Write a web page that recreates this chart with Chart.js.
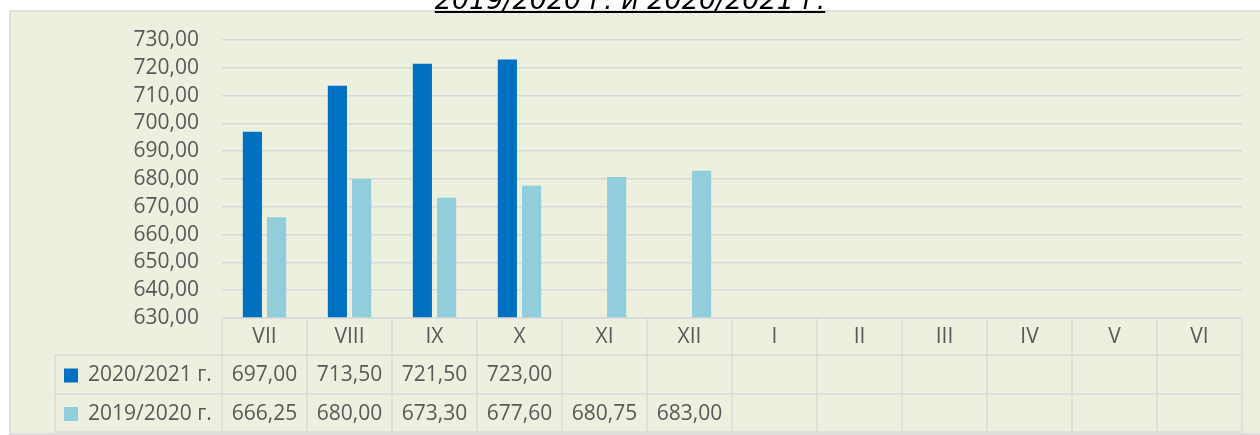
<!DOCTYPE html>
<html>
<head>
<meta charset="utf-8">
<script src="https://cdn.jsdelivr.net/npm/chart.js@4.4.0/dist/chart.umd.min.js"></script>
<style>
  html, body { margin: 0; padding: 0; background: #ffffff; overflow: hidden; }
  #wrap { position: relative; width: 1260px; height: 435px; }
  #title {
    position: absolute; left: 0; width: 1260px; top: -14px;
    text-align: center; font-family: "DejaVu Sans"; font-style: italic;
    font-size: 27px; line-height: 27px; color: #000; text-decoration: underline;
    z-index: 2;
  }
  canvas { position: absolute; left: 0; top: 0; }
</style>
</head>
<body>
<div id="wrap">
  <div id="title">2019/2020 г. и 2020/2021 г.</div>
  <canvas id="chart" width="1260" height="435"></canvas>
</div>
<script>
const months = ["VII", "VIII", "IX", "X", "XI", "XII", "I", "II", "III", "IV", "V", "VI"];
const season2021 = [697.0, 713.5, 721.5, 723.0, null, null, null, null, null, null, null, null];
const season2020 = [666.25, 680.0, 673.3, 677.6, 680.75, 683.0, null, null, null, null, null, null];
const seriesNames = ["2020/2021 г.", "2019/2020 г."];
const seriesColors = ["#0070C0", "#92CDDC"];

const fmt = (v) => v.toFixed(2).replace(".", ",");
const TEXT = "#595959";
const LINE = "#D9D9D9";

// green box behind everything
const boxPlugin = {
  id: "box",
  beforeDraw(chart) {
    const ctx = chart.ctx;
    ctx.save();
    ctx.fillStyle = "#EBF1DE";
    ctx.fillRect(10, 11, 1260, 430);
    ctx.strokeStyle = LINE;
    ctx.lineWidth = 1.5;
    ctx.strokeRect(10, 11, 1270, 423);
    ctx.restore();
  }
};

// data table under the plot, aligned to the x scale
const tablePlugin = {
  id: "dataTable",
  afterDraw(chart) {
    const ctx = chart.ctx;
    const x = chart.scales.x;
    const area = chart.chartArea;
    const colW = (area.right - area.left) / months.length;
    const rows = [area.bottom, 355, 394, 432];
    const legendLeft = 55;

    ctx.save();
    ctx.strokeStyle = LINE;
    ctx.lineWidth = 1.5;
    ctx.beginPath();
    ctx.moveTo(area.left, rows[0]);
    ctx.lineTo(area.right, rows[0]);
    for (let r = 1; r < rows.length; r++) {
      ctx.moveTo(legendLeft, rows[r]);
      ctx.lineTo(area.right, rows[r]);
    }
    for (let i = 0; i <= months.length; i++) {
      const cx = area.left + i * colW;
      ctx.moveTo(cx, rows[0]);
      ctx.lineTo(cx, rows[3]);
    }
    ctx.moveTo(legendLeft, rows[1]);
    ctx.lineTo(legendLeft, rows[3]);
    ctx.stroke();

    ctx.fillStyle = TEXT;
    ctx.font = "21px 'Open Sans'";
    ctx.textAlign = "center";
    ctx.textBaseline = "middle";
    months.forEach((m, i) => {
      ctx.fillText(m, x.getPixelForValue(i), (rows[0] + rows[1]) / 2 + 1);
    });
    chart.data.datasets.forEach((ds, d) => {
      const cy = (rows[d + 1] + rows[d + 2]) / 2 + 1;
      ds.data.forEach((v, i) => {
        if (v !== null) ctx.fillText(fmt(v), x.getPixelForValue(i), cy);
      });
      ctx.fillStyle = ds.backgroundColor;
      ctx.fillRect(64, cy - 7, 14, 14);
      ctx.fillStyle = TEXT;
      ctx.textAlign = "left";
      ctx.fillText(ds.label, 88, cy);
      ctx.textAlign = "center";
    });
    ctx.restore();
  }
};

Chart.defaults.font.family = "'Open Sans'";
Chart.defaults.font.size = 21;
Chart.defaults.color = TEXT;

new Chart(document.getElementById("chart"), {
  type: "bar",
  data: {
    labels: months,
    datasets: [
      { label: seriesNames[0], data: season2021, backgroundColor: seriesColors[0] },
      { label: seriesNames[1], data: season2020, backgroundColor: seriesColors[1] }
    ]
  },
  options: {
    responsive: false,
    animation: false,
    layout: { padding: { top: 40, right: 18, bottom: 117, left: 0 } },
    datasets: { bar: { categoryPercentage: 0.57, barPercentage: 0.79 } },
    plugins: { legend: { display: false }, tooltip: { enabled: false } },
    scales: {
      x: { display: false },
      y: {
        min: 630,
        max: 730,
        afterFit(scale) { scale.width = 222; },
        border: { display: false },
        grid: { color: LINE, lineWidth: 1.5, drawTicks: false },
        ticks: { stepSize: 10, autoSkip: false, padding: 23, color: TEXT, callback: (v) => fmt(v) }
      }
    }
  },
  plugins: [boxPlugin, tablePlugin]
});
</script>
</body>
</html>
